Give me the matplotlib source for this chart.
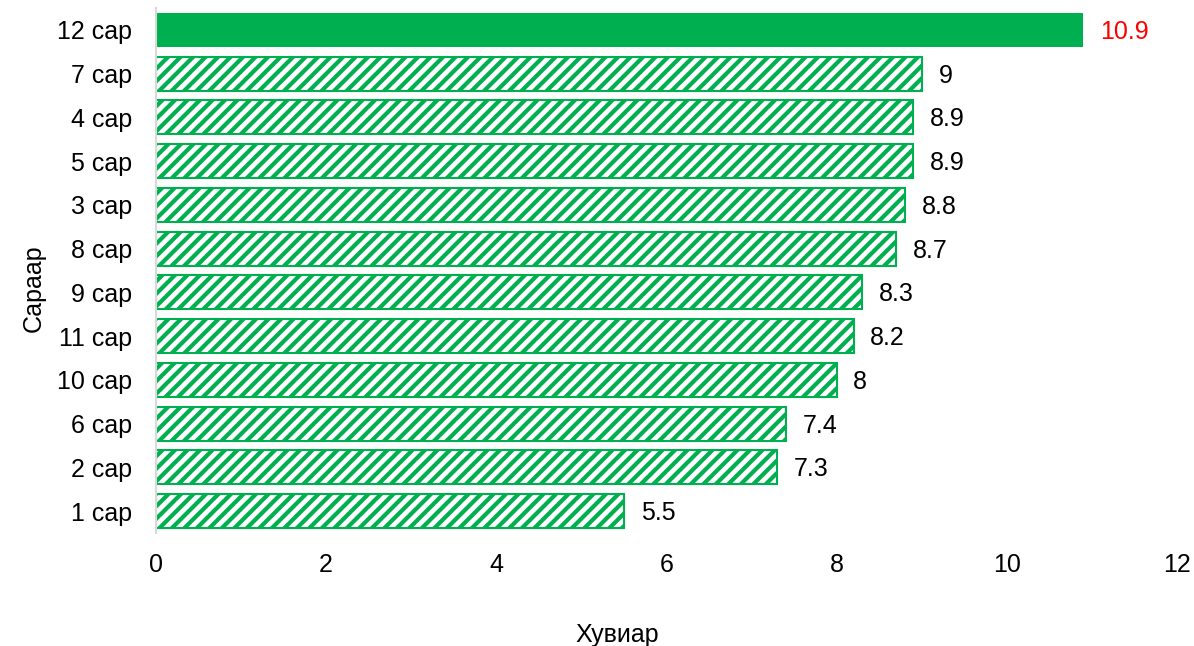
import matplotlib.pyplot as plt

# ангиллууд (дээрээс доош)
cats = ["12 сар", "7 сар", "4 сар", "5 сар", "3 сар", "8 сар", "9 сар",
        "11 сар", "10 сар", "6 сар", "2 сар", "1 сар"]
vals = [10.9, 9, 8.9, 8.9, 8.8, 8.7, 8.3, 8.2, 8, 7.4, 7.3, 5.5]
xticks = [0, 2, 4, 6, 8, 10, 12]

GREEN = "#00B050"
plt.rcParams['font.family'] = ['Liberation Sans', 'DejaVu Sans']
plt.rcParams['hatch.linewidth'] = 2.0

fig = plt.figure(figsize=(1194 / 150, 646 / 150), dpi=150)
ax = fig.add_axes([156 / 1194, 1 - 533 / 646, (1177 - 156) / 1194, (533 - 8) / 646])

ypos = list(range(len(cats)))
for i, (c, v) in enumerate(zip(cats, vals)):
    if i == 0:
        ax.barh(i, v, height=0.78, color=GREEN, edgecolor=GREEN, linewidth=0)
        col = "#FF0000"
    else:
        ax.barh(i, v, height=0.78, color="white", edgecolor=GREEN,
                hatch="////", linewidth=1.0)
        col = "black"
    ax.annotate("{:g}".format(v), (v, i), xytext=(8, -1), textcoords="offset points",
                va="center", ha="left", fontsize=12, color=col)

ax.set_yticks(ypos)
ax.set_yticklabels(cats)
ax.set_ylim(len(cats) - 0.5, -0.5)
ax.set_xlim(0, 12)
ax.set_xticks(xticks)
ax.tick_params(axis="both", length=0, labelsize=12)
ax.tick_params(axis="x", pad=9.5)
ax.tick_params(axis="y", pad=11.5)

for s in ["top", "right", "bottom"]:
    ax.spines[s].set_visible(False)
ax.spines["left"].set_color("#D9D9D9")
ax.spines["left"].set_linewidth(1.0)

ax.set_xlabel("Хувиар", fontsize=12, labelpad=22, x=0.4515)
ax.set_ylabel("Сараар", fontsize=12, labelpad=5.5, y=0.467)

fig.savefig("out.png", dpi=150)
